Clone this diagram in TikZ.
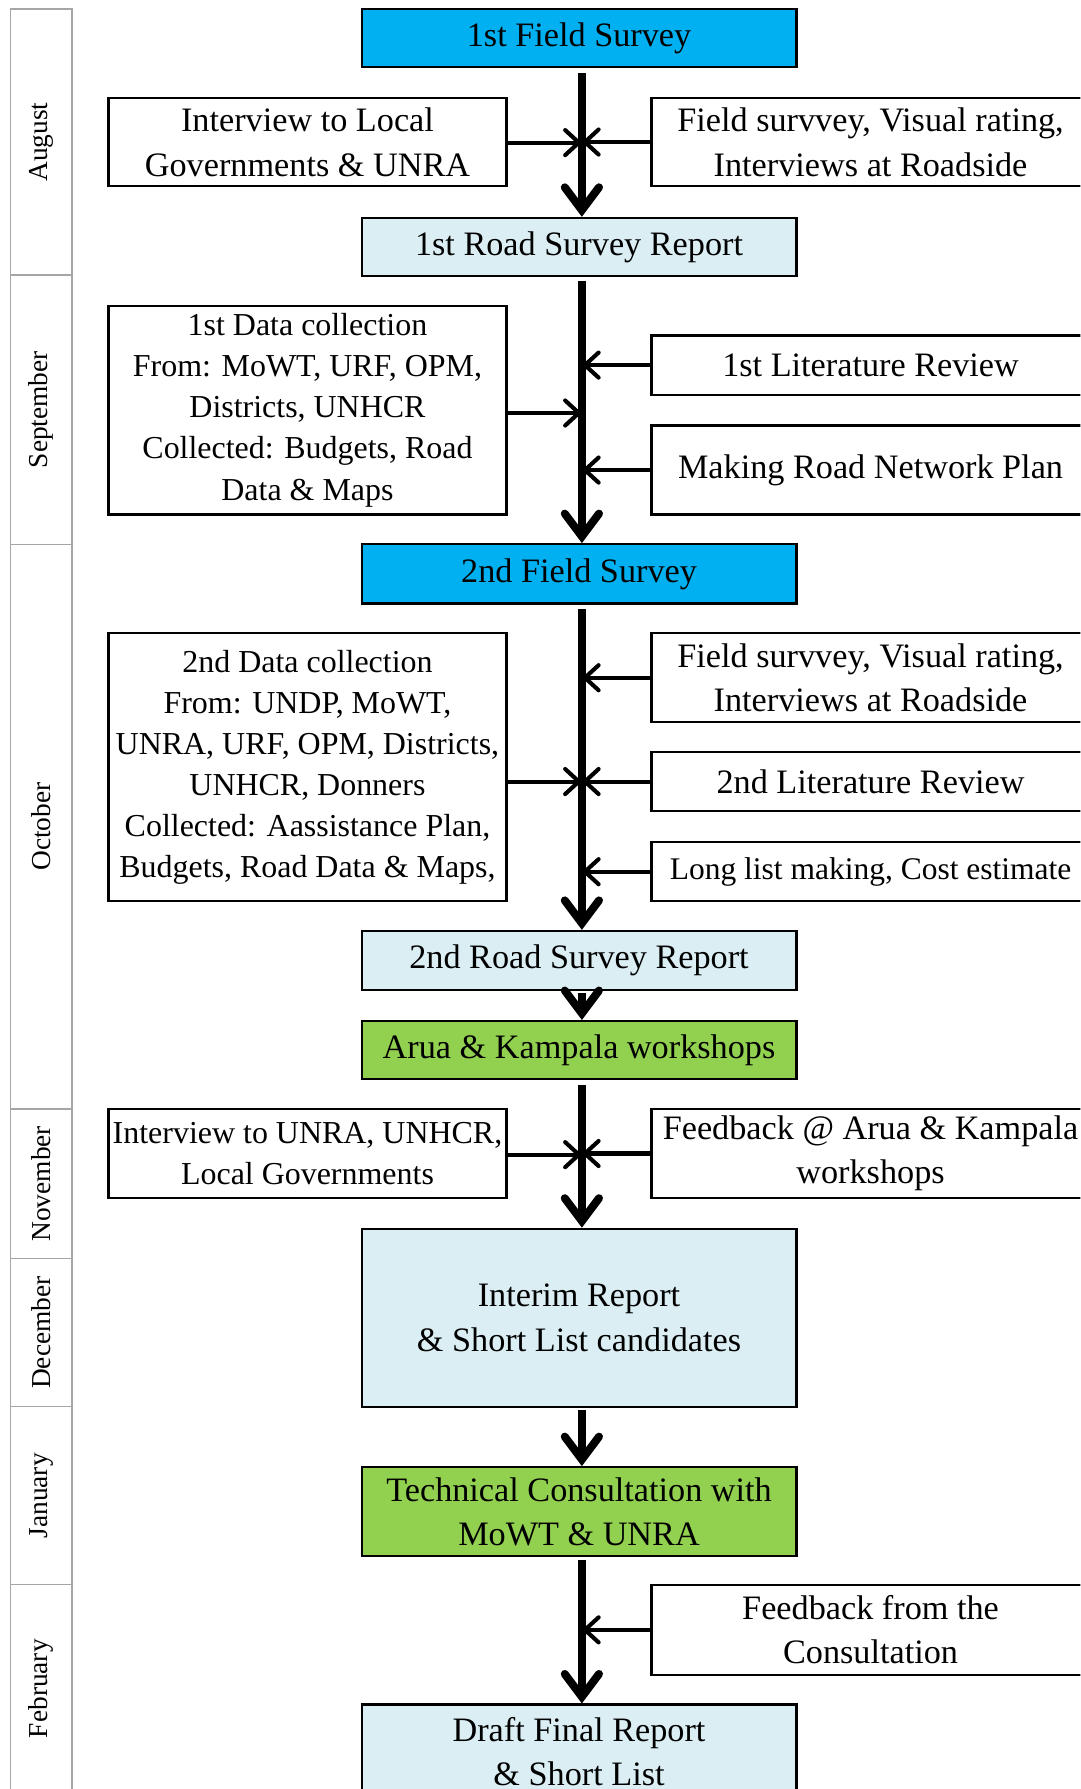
\documentclass[tikz,border=0pt]{standalone}
\usepackage{fontspec}
\setmainfont{Liberation Serif}
\usetikzlibrary{arrows.meta,calc}
\definecolor{fieldblue}{HTML}{00B0F0}
\definecolor{reportblue}{HTML}{DAEEF3}
\definecolor{meetgreen}{HTML}{92D050}
\definecolor{gridgray}{HTML}{A6A6A6}
\begin{document}
\begin{tikzpicture}[x=0.5pt,y=-0.5pt,
  wh/.style 2 args={minimum width=#1*0.5pt, minimum height=#2*0.5pt},
  box/.style={draw=black, line width=1pt, inner sep=0pt, align=center,
    font=\fontsize{15}{19.5}\selectfont},
  dense/.style={font=\fontsize{14}{18}\selectfont},
  field/.style={box, fill=fieldblue},
  report/.style={box, fill=reportblue},
  meeting/.style={box, fill=meetgreen},
  month/.style={draw=gridgray, line width=0.6pt, inner sep=0pt, rotate=90,
    font=\fontsize{12}{14}\selectfont},
  mainarrow/.style={line width=3.5pt,
    -{Straight Barb[length=10pt,width=15pt,line cap=round]}},
  sidearrow/.style={line width=1.8pt,
    -{Straight Barb[length=6pt,width=11pt,line cap=round]}},
]
\clip (0,0) rectangle (947,1568);

% month column (cells are rotated, so width runs along the column)
\node[month, wh={233}{54}] (aug) at (36,124.5)  {August};
\node[month, wh={236}{54}] (sep) at (36,359)    {September};
\node[month, wh={495}{54}] (oct) at (36,724.5)  {October};
\node[month, wh={131}{54}] (nov) at (36,1037.5) {November};
\node[month, wh={130}{54}] (dec) at (36,1168)   {December};
\node[month, wh={156}{54}] (jan) at (36,1311)   {January};
\node[month, wh={182}{54}] (feb) at (36,1480)   {February};

% main flow
\node[field,   wh={381}{51}]  (fs1) at (507.5,33.5) {1st Field Survey};
\node[report,  wh={381}{51}]  (rs1) at (507.5,216.5) {1st Road Survey Report};
\node[field,   wh={381}{52}]  (fs2) at (507.5,503) {2nd Field Survey};
\node[report,  wh={381}{52}]  (rs2) at (507.5,842) {2nd Road Survey Report};
\node[meeting, wh={381}{51}]  (ws)  at (507.5,920.5) {Arua \& Kampala workshops};
\node[report,  wh={381}{156}] (ir)  at (507.5,1155) {Interim Report\\\& Short List candidates};
\node[meeting, wh={381}{78}]  (tc)  at (507.5,1325) {Technical Consultation with\\MoWT \& UNRA};
\node[report,  wh={381}{82}]  (df)  at (507.5,1535) {Draft Final Report\\\& Short List};

% inputs on the left
\node[box, wh={349}{77}] (l1) at (269.5,124.5) {Interview to Local\\Governments \& UNRA};
\node[box, dense, wh={349}{183}] (l2) at (269.5,359.5)
  {1st Data collection\\From: MoWT, URF, OPM,\\Districts, UNHCR\\Collected: Budgets, Road\\Data \& Maps};
\node[box, dense, wh={349}{235}] (l3) at (269.5,672.5)
  {2nd Data collection\\From: UNDP, MoWT,\\UNRA, URF, OPM, Districts,\\UNHCR, Donners\\Collected: Aassistance Plan,\\Budgets, Road Data \& Maps,};
\node[box, dense, wh={349}{78}] (l4) at (269.5,1011) {Interview to UNRA, UNHCR,\\Local Governments};

% inputs on the right
\node[box, wh={384}{77}] (r1) at (763,124.5) {Field survvey, Visual rating,\\Interviews at Roadside};
\node[box, wh={384}{52}] (r2) at (763,320)   {1st Literature Review};
\node[box, wh={384}{78}] (r3) at (763,412)   {Making Road Network Plan};
\node[box, wh={384}{78}] (r4) at (763,594)   {Field survvey, Visual rating,\\Interviews at Roadside};
\node[box, wh={384}{52}] (r5) at (763,685)   {2nd Literature Review};
\node[box, wh={384}{52}, font=\fontsize{13.8}{18}\selectfont] (r6) at (763,764)
  {Long list making, Cost estimate};
\node[box, wh={384}{78}] (r7) at (763,1011)  {Feedback @ Arua \& Kampala\\workshops};
\node[box, wh={384}{79}] (r8) at (763,1428.5) {Feedback from the\\Consultation};

% spine and junctions of the left inputs
\coordinate (sp) at (510,0);
\coordinate (j1) at (510,125);
\coordinate (j2) at (510,362);
\coordinate (j3) at (510,685);
\coordinate (j4) at (510,1012);

% main arrows
\draw[mainarrow] ($(fs1.south -| sp)+(0,4)$) -- (rs1.north -| sp);
\draw[mainarrow] ($(rs1.south -| sp)+(0,3)$) -- (fs2.north -| sp);
\draw[mainarrow] ($(fs2.south -| sp)+(0,4)$) -- (rs2.north -| sp);
\draw[mainarrow] ($(rs2.south -| sp)+(0,1)$) -- (ws.north -| sp);
\draw[mainarrow] ($(ws.south -| sp)+(0,4)$)  -- (ir.north -| sp);
\draw[mainarrow] ($(ir.south -| sp)+(0,2)$)  -- (tc.north -| sp);
\draw[mainarrow] ($(tc.south -| sp)+(0,2)$)  -- (df.north -| sp);

% side arrows from the left
\draw[sidearrow] (l1.east |- j1) -- (j1);
\draw[sidearrow] (l2.east |- j2) -- (j2);
\draw[sidearrow] (l3.east |- j3) -- (j3);
\draw[sidearrow] (l4.east |- j4) -- (j4);

% side arrows from the right
\foreach \r in {r1,r2,r3,r4,r5,r6,r7,r8}
  \draw[sidearrow] (\r.west) -- (\r.west -| sp);
\end{tikzpicture}
\end{document}
